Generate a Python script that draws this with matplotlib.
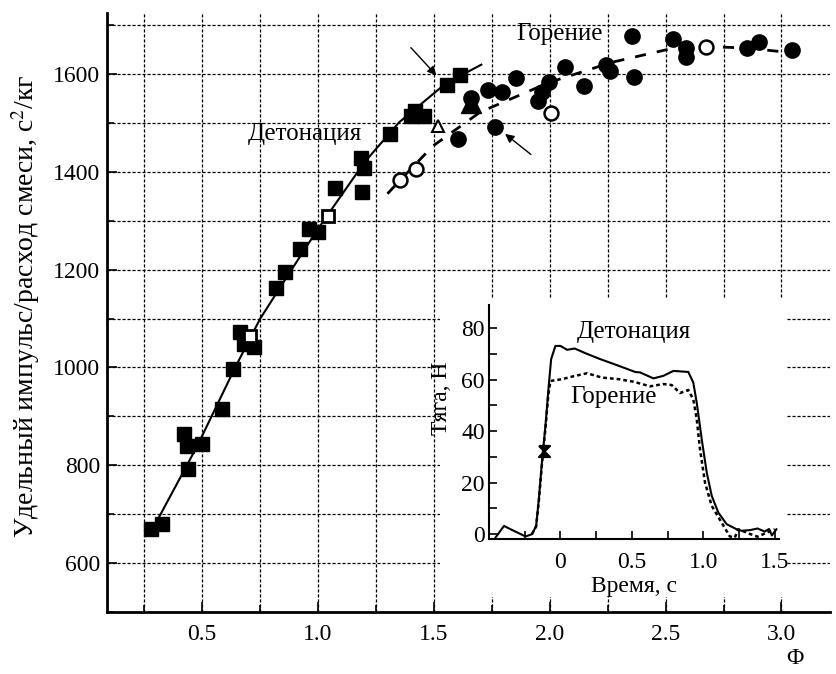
import matplotlib
matplotlib.use("Agg")
import matplotlib.pyplot as plt
from matplotlib.patches import Rectangle
from matplotlib.ticker import MultipleLocator

plt.rcParams['font.family'] = ['Liberation Serif', 'DejaVu Serif']
plt.rcParams['font.size'] = 17
plt.rcParams['mathtext.fontset'] = 'stix'

# detonation points (filled squares)
det_phi = [0.28, 0.326, 0.44, 0.424, 0.437, 0.50, 0.588, 0.632, 0.664, 0.682, 0.726,
           0.818, 0.858, 0.922, 0.963, 1.0, 1.073, 1.19, 1.185, 1.198, 1.313, 1.40,
           1.418, 1.458, 1.555, 1.615]
det_val = [670, 680, 792, 864, 840, 843, 914, 997, 1073, 1048, 1041,
           1162, 1196, 1242, 1284, 1276, 1366, 1358, 1428, 1407, 1477, 1515,
           1524, 1515, 1578, 1598]
det_open_phi = [0.707, 1.044]
det_open_val = [1064, 1310]

# detonation fit
det_fit_phi = [0.31, 0.48, 0.64, 0.75, 0.87, 1.0, 1.2, 1.35, 1.55, 1.705]
det_fit_val = [690, 840, 997, 1099, 1188, 1283, 1419, 1501, 1580, 1619]

# combustion points (filled circles)
comb_phi = [1.605, 1.763, 1.734, 1.796, 1.856, 1.95, 1.968, 1.997, 2.065, 2.147,
            2.244, 2.259, 2.355, 2.364, 2.53, 2.589, 2.589, 2.852, 2.905, 3.044]
comb_val = [1466, 1491, 1568, 1564, 1592, 1545, 1563, 1584, 1614, 1575,
            1618, 1607, 1677, 1593, 1672, 1653, 1634, 1654, 1665, 1649]
comb_open_phi = [1.353, 1.421, 2.007, 2.675]
comb_open_val = [1383, 1406, 1520, 1656]

# combustion fit
comb_fit_phi = [1.30, 1.353, 1.497, 1.70, 2.0, 2.27, 2.517, 2.675, 2.85, 2.99]
comb_fit_val = [1355, 1382, 1453, 1522, 1583, 1624, 1651, 1656, 1653, 1646]

# triangles
tri_open = (1.52, 1494)
tri_fill = (1.66, 1541)
circ_under_tri = (1.66, 1551)

# inset: thrust vs time
det_t = [-0.454, -0.395, -0.349, -0.244, -0.198, -0.170, -0.151, -0.128, -0.105, -0.082,
         -0.065, -0.035, 0.0, 0.047, 0.1, 0.174, 0.268, 0.407, 0.523, 0.558, 0.651,
         0.721, 0.791, 0.895, 0.930, 0.954, 0.989, 1.024, 1.059, 1.105, 1.163, 1.233,
         1.268, 1.33, 1.38, 1.43, 1.46, 1.48, 1.512]
det_F = [-1.3, 3.2, 1.9, -0.9, 0.0, 3.2, 13.6, 29, 42, 57.6,
         68, 73.1, 73.1, 71.6, 72.1, 70.3, 68.2, 65.4, 63, 62.8, 60.5,
         61.5, 63.4, 63, 58.9, 51.1, 36.9, 24, 14.9, 8.4, 3.9, 1.9,
         1.3, 1.6, 2.2, 1.0, 2.0, -0.5, 1.9]
comb_t = [-0.2, -0.17, -0.151, -0.128, -0.105, -0.085, -0.07, 0.012, 0.082, 0.186, 0.291,
          0.407, 0.512, 0.628, 0.721, 0.779, 0.837, 0.895, 0.930, 0.954, 0.977,
          1.012, 1.059, 1.128, 1.186, 1.221, 1.245, 1.33, 1.38, 1.42, 1.50]
comb_F = [0.0, 3.0, 13.0, 28, 41, 54, 59.5, 60.2, 61.2, 62.5, 60.8,
          60.2, 59.2, 57.4, 58.3, 57.9, 54.8, 56, 52.4, 44.7, 33,
          20, 11, 4.5, -0.9, -1.3, 1.9, 0.0, -1.0, 0.0, 1.9]
star_pt = (-0.116, 32.3)

fig = plt.figure(figsize=(8.36, 6.74), dpi=100)
ax = fig.add_axes([0.128, 0.092, 0.865, 0.889])

grid_kw = dict(color='black', lw=0.9, ls=(0, (2.5, 1.5)))
ax.xaxis.set_major_locator(MultipleLocator(0.5))
ax.xaxis.set_minor_locator(MultipleLocator(0.25))
ax.yaxis.set_major_locator(MultipleLocator(200))
ax.yaxis.set_minor_locator(MultipleLocator(100))
ax.grid(True, which='both', **grid_kw)
ax.set_axisbelow(True)
ax.set_xlim(0.09, 3.21)
ax.set_ylim(500, 1725)
ax.set_xticks([0.5, 1.0, 1.5, 2.0, 2.5, 3.0])
ax.set_xticklabels(['0.5', '1.0', '1.5', '2.0', '2.5', '3.0'])
ax.set_yticks([600, 800, 1000, 1200, 1400, 1600])
ax.tick_params(which='both', direction='in', width=1.2)
ax.tick_params(which='major', length=7)
ax.tick_params(which='minor', length=5)
ax.tick_params(axis='x', pad=9)
ax.tick_params(axis='y', pad=5)
for s in ['top', 'right']:
    ax.spines[s].set_visible(False)
for s in ['left', 'bottom']:
    ax.spines[s].set_linewidth(2)

ax.plot(det_fit_phi, det_fit_val, color='black', lw=1.5, zorder=3)
ax.plot(comb_fit_phi, comb_fit_val, color='black', lw=2, ls=(0, (4, 4)), zorder=3)
ax.plot(det_phi, det_val, 's', color='black', ms=10, zorder=4)
ax.plot(det_open_phi, det_open_val, 's', mfc='white', mec='black', mew=2, ms=9, zorder=4)
ax.plot(comb_phi, comb_val, 'o', color='black', ms=11, zorder=4)
ax.plot(comb_open_phi, comb_open_val, 'o', mfc='white', mec='black', mew=1.8, ms=10, zorder=4)
ax.plot(*circ_under_tri, 'o', color='black', ms=11, zorder=4)
ax.plot(*tri_fill, '^', color='black', ms=14, zorder=4)
ax.plot(*tri_open, '^', mfc='white', mec='black', mew=1.5, ms=9, zorder=4)

arrow_kw = dict(arrowstyle='-|>', color='black', lw=1, mutation_scale=13)
ax.annotate('', xy=(1.519, 1593), xytext=(1.393, 1658), arrowprops=arrow_kw)
ax.annotate('', xy=(1.798, 1481), xytext=(1.928, 1432), arrowprops=arrow_kw)

ax.text(0.944, 1477, 'Детонация', ha='center', va='center', fontsize=18)
ax.text(2.043, 1682, 'Горение', ha='center', va='center', fontsize=18)

fig.text(26 / 836, 1 - 306 / 674, 'Удельный импульс/расход смеси, с$^2$/кг',
         rotation=90, ha='center', va='center', fontsize=20)
fig.text(795 / 836, 1 - 658 / 674, 'Φ', ha='center', va='center')

# white patch behind the inset
fig.add_artist(Rectangle((440 / 836, 1 - 597 / 674), 347 / 836, 299 / 674,
                         transform=fig.transFigure, facecolor='white',
                         edgecolor='none', zorder=1))

ins = fig.add_axes([489 / 836, 1 - 539.3 / 674, 290 / 836, 234.3 / 674], zorder=2)
ins.plot(det_t, det_F, color='black', lw=1.5)
ins.plot(comb_t, comb_F, color='black', lw=1.8, ls=(0, (1.5, 1.2)))
ins.plot(*star_pt, marker=[(-1, 1), (1, 1), (-1, -1), (1, -1), (-1, 1)],
         color='black', ms=8, mew=1.5)
ins.set_xlim(-0.5, 1.53)
ins.set_ylim(-2, 89)
ins.xaxis.set_major_locator(MultipleLocator(0.5))
ins.xaxis.set_minor_locator(MultipleLocator(0.25))
ins.yaxis.set_major_locator(MultipleLocator(20))
ins.yaxis.set_minor_locator(MultipleLocator(10))
ins.set_xticks([0, 0.5, 1.0, 1.5])
ins.set_xticklabels(['0', '0.5', '1.0', '1.5'])
ins.tick_params(which='both', direction='in', width=1.2, length=6)
ins.tick_params(axis='x', pad=9)
ins.tick_params(axis='y', pad=3)
for s in ['top', 'right']:
    ins.spines[s].set_visible(False)
for s in ['left', 'bottom']:
    ins.spines[s].set_linewidth(1.5)
ins.set_xlabel('Время, с', labelpad=2)
ins.set_ylabel('Тяга, Н', labelpad=2)
ins.yaxis.set_label_coords(-0.128, 0.6)
ins.text(0.516, 78.4, 'Детонация', ha='center', va='center', fontsize=18)
ins.text(0.37, 53.2, 'Горение', ha='center', va='center', fontsize=18)

fig.savefig('out.png', dpi=100)
